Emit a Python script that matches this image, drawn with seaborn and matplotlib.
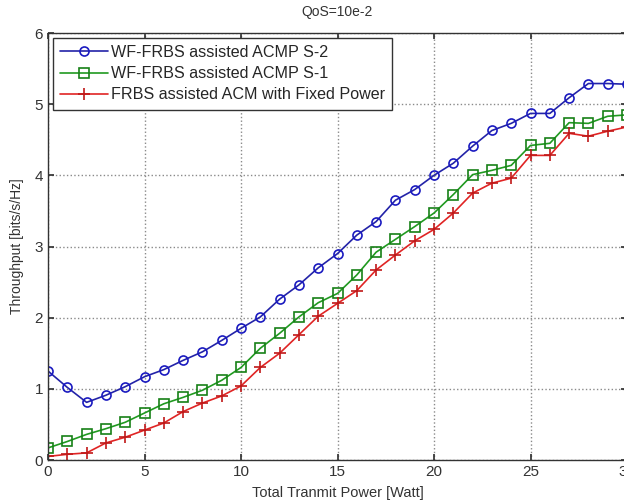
import numpy as np
import pandas as pd
import seaborn as sns
import matplotlib.pyplot as plt

power = list(range(0, 31))

s2 = [1.25, 1.02, 0.81, 0.91, 1.03, 1.17, 1.27, 1.40, 1.52, 1.68,
      1.85, 2.01, 2.26, 2.46, 2.70, 2.90, 3.16, 3.35, 3.65, 3.80,
      4.00, 4.17, 4.41, 4.63, 4.73, 4.87, 4.87, 5.09, 5.29, 5.29, 5.28]
s1 = [0.17, 0.26, 0.36, 0.44, 0.53, 0.66, 0.79, 0.88, 0.98, 1.12,
      1.30, 1.57, 1.78, 2.01, 2.21, 2.34, 2.60, 2.92, 3.10, 3.28,
      3.47, 3.73, 4.01, 4.07, 4.14, 4.42, 4.45, 4.74, 4.73, 4.83, 4.85]
fixed = [0.05, 0.08, 0.10, 0.24, 0.32, 0.42, 0.52, 0.68, 0.80, 0.90,
         1.04, 1.30, 1.50, 1.76, 2.02, 2.20, 2.38, 2.67, 2.88, 3.08,
         3.24, 3.47, 3.75, 3.89, 3.96, 4.28, 4.28, 4.59, 4.55, 4.62, 4.68]

labels = ["WF-FRBS assisted ACMP S-2",
          "WF-FRBS assisted ACMP S-1",
          "FRBS assisted ACM with Fixed Power"]

df = pd.DataFrame({"power": power * 3,
                   "thr": s2 + s1 + fixed,
                   "series": np.repeat(labels, len(power))})

sns.set_theme(style="ticks")
plt.rcParams["font.family"] = ["Liberation Sans", "DejaVu Sans"]

fig = plt.figure(figsize=(6.24, 5.04), dpi=100)
# right edge of the axes runs slightly past the canvas like the reference
ax = fig.add_axes([48 / 624, 44 / 504, 579 / 624, 427 / 504])

styles = {
    labels[0]: dict(color="#2323a8", marker="o", markersize=6.5,
                    markerfacecolor="none", markeredgecolor="#1a1ac0"),
    labels[1]: dict(color="#209a20", marker="s", markersize=7,
                    markerfacecolor="none", markeredgecolor="#178017"),
    labels[2]: dict(color="#e02424", marker="+", markersize=8,
                    markeredgecolor="#c01818"),
}
for lab in labels:
    sub = df[df["series"] == lab]
    sns.lineplot(data=sub, x="power", y="thr", ax=ax, label=lab,
                 linewidth=1.2, markeredgewidth=1.2, **styles[lab])

ax.set_xlim(0, 30)
ax.set_ylim(0, 6)
ax.set_xticks(range(0, 31, 5))
ax.set_yticks(range(0, 7))
ax.tick_params(direction="in", top=True, right=True, length=4,
               labelsize=11, colors="#333333")
ax.grid(True, linestyle=":", color="#8a8a8a", linewidth=1)
for sp in ax.spines.values():
    sp.set_color("#333333")
    sp.set_linewidth(1)

ax.set_title("QoS=10e-2", fontsize=10, color="#333333", pad=12)
ax.set_xlabel("Total Tranmit Power [Watt]", fontsize=10.5, color="#333333", labelpad=5)
ax.set_ylabel("Throughput [bits/s/Hz]", fontsize=10, color="#333333", labelpad=8)

leg = ax.legend(loc="upper left", fontsize=11.6, frameon=True, fancybox=False,
                edgecolor="#333333", framealpha=1, borderaxespad=0.3,
                handlelength=3.0, labelspacing=0.38, borderpad=0.45,
                handletextpad=0.15)
leg.get_frame().set_linewidth(1)

fig.savefig("out.png", dpi=100)
